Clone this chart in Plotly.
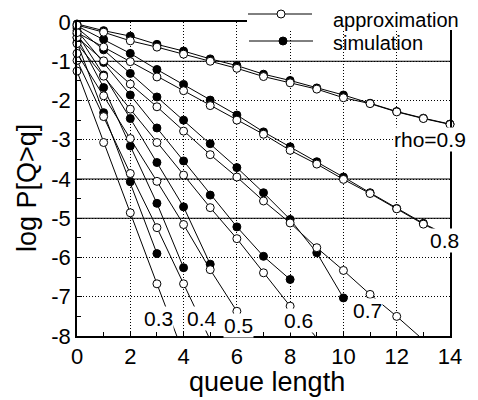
import plotly.graph_objects as go

queue_length = list(range(15))
x_tick_vals = [0, 2, 4, 6, 8, 10, 12, 14]
y_tick_vals = [0, -1, -2, -3, -4, -5, -6, -7, -8]
y_tick_text = ["0", "-1", "-2", "-3", "-4", "-5", "-6", "-7", "-8"]

approx_03 = [-1.25, -3.07, -4.86, -6.67, -8.45]
approx_04 = [-0.98, -2.41, -3.86, -5.24, -6.67, -8.10]
approx_05 = [-0.80, -1.88, -2.97, -4.06, -5.16, -6.31, -7.37]
approx_06 = [-0.55, -1.38, -2.22, -3.07, -3.90, -4.73, -5.52, -6.39, -7.24, -8.05]
approx_07 = [-0.39, -0.99, -1.58, -2.16, -2.78, -3.38, -3.95, -4.56, -5.12, -5.75, -6.33, -6.94, -7.50, -8.10]
approx_08 = [-0.27, -0.64, -1.01, -1.40, -1.75, -2.13, -2.50, -2.86, -3.27, -3.62, -4.01, -4.37, -4.76, -5.15, -5.49]
approx_09 = [-0.08, -0.26, -0.48, -0.64, -0.82, -1.00, -1.18, -1.39, -1.55, -1.71, -1.93, -2.08, -2.29, -2.46, -2.61]

sim_03 = [-0.52, -2.31, -4.07, -5.90]
sim_04 = [-0.40, -1.67, -3.16, -4.62, -6.26]
sim_05 = [-0.30, -1.35, -2.46, -3.58, -4.71, -6.17]
sim_06 = [-0.22, -1.03, -1.86, -2.70, -3.54, -4.41, -5.22, -5.97, -6.56]
sim_07 = [-0.15, -0.71, -1.31, -1.91, -2.50, -3.10, -3.71, -4.35, -5.03, -5.88, -7.03]
sim_08 = [-0.10, -0.44, -0.80, -1.21, -1.59, -1.99, -2.37, -2.80, -3.18, -3.56, -3.95, -4.35, -4.75, -5.13, -5.47]
sim_09 = [-0.05, -0.22, -0.36, -0.57, -0.74, -0.94, -1.11, -1.33, -1.49, -1.68, -1.86, -2.07, -2.28, -2.45, -2.60]

approx_series = [approx_03, approx_04, approx_05, approx_06, approx_07, approx_08, approx_09]
sim_series = [sim_03, sim_04, sim_05, sim_06, sim_07, sim_08, sim_09]

rho_labels = ["0.3", "0.4", "0.5", "0.6", "0.7", "0.8", "rho=0.9"]
label_x = [3.05, 4.7, 6.08, 8.33, 10.9, 13.8, 13.25]
label_y = [-7.56, -7.55, -7.72, -7.6, -7.35, -5.56, -3.0]

legend_names = ["approximation", "simulation"]
x_title = "queue length"
y_title = "log P[Q>q]"

FONT = "Liberation Sans, Arial, sans-serif"
Y_MIN = -8.0

# page body has an 8px default margin: work in page pixels, shift into figure pixels
OFF = 8
FIG_W, FIG_H = 478 - OFF, 400 - OFF
L, R, T, B = 77 - OFF, 450 - OFF, 22 - OFF, 336 - OFF
W, H = R - L, B - T


def px(xp):
    return (xp - OFF - L) / W


def py(yp):
    return (B - (yp - OFF)) / H


fig = go.Figure()


def add_series(ys, filled):
    xs = queue_length[:len(ys)]
    op = [1 if y >= Y_MIN - 0.06 else 0 for y in ys]
    fig.add_trace(go.Scatter(
        x=xs, y=ys, mode="lines+markers", showlegend=False, cliponaxis=False,
        line=dict(color="black", width=1),
        marker=dict(symbol="circle", size=8, opacity=op,
                    color="black" if filled else "white",
                    line=dict(color="black", width=1)),
    ))


for ys in sim_series:
    add_series(ys, True)
for ys in approx_series:
    add_series(ys, False)

for t, xv, yv in zip(rho_labels, label_x, label_y):
    fig.add_annotation(x=xv, y=yv, text=t, showarrow=False, bgcolor="white",
                       font=dict(family=FONT, size=21, color="black"), borderpad=0)

shapes = []
for yv in [-1, -4, -5]:
    shapes.append(dict(type="line", xref="x", yref="y", x0=0, x1=14, y0=yv, y1=yv,
                       line=dict(color="black", width=1), layer="below"))

# legend box (manual), positions given in page pixels
shapes.append(dict(type="rect", xref="paper", yref="paper", x0=px(247), x1=px(480),
                   y0=py(30), y1=py(0), fillcolor="white", line=dict(width=0), layer="above"))
rows = [(14, 248, 312, 281, "white", 20), (41, 249, 313, 283, "black", 43)]
for (yy, xa, xb, xm, fc, ty), name in zip(rows, legend_names):
    shapes.append(dict(type="line", xref="paper", yref="paper", x0=px(xa), x1=px(xb),
                       y0=py(yy), y1=py(yy), line=dict(color="black", width=1), layer="above"))
    shapes.append(dict(type="circle", xref="paper", yref="paper",
                       x0=px(xm - 4), x1=px(xm + 4), y0=py(yy + 4), y1=py(yy - 4),
                       fillcolor=fc, line=dict(color="black", width=1), layer="above"))
    fig.add_annotation(xref="paper", yref="paper", x=px(331), y=py(ty), text=name,
                       xanchor="left", yanchor="middle", showarrow=False,
                       font=dict(family=FONT, size=20, color="black"))

# axis titles
fig.add_annotation(xref="paper", yref="paper", x=px(267), y=py(382), text=x_title,
                   xanchor="center", yanchor="middle", showarrow=False,
                   font=dict(family=FONT, size=27, color="black"))
fig.add_annotation(xref="paper", yref="paper", x=px(27), y=py(188), text=y_title,
                   textangle=-90, xanchor="center", yanchor="middle", showarrow=False,
                   font=dict(family=FONT, size=27, color="black"))

grid_dash = "1px,2px"

fig.update_layout(
    width=FIG_W, height=FIG_H,
    margin=dict(l=L, r=FIG_W - R, t=T, b=FIG_H - B, autoexpand=False),
    paper_bgcolor="white", plot_bgcolor="white",
    font=dict(family=FONT, color="black"),
    shapes=shapes,
    showlegend=False,
    xaxis=dict(range=[0, 14], tickvals=x_tick_vals, showgrid=True, gridcolor="black",
               griddash=grid_dash, gridwidth=1, zeroline=False, showline=True, mirror=True,
               linecolor="black", linewidth=1.5, ticks="inside", ticklen=5,
               tickcolor="black", tickfont=dict(size=22), automargin=False,
               minor=dict(dtick=1, ticks="inside", ticklen=4, tickcolor="black", showgrid=False)),
    yaxis=dict(range=[-8, 0], tickvals=y_tick_vals, ticktext=y_tick_text, showgrid=True,
               gridcolor="black", griddash=grid_dash, gridwidth=1, zeroline=False,
               showline=True, mirror=True, linecolor="black", linewidth=1.5,
               ticks="inside", ticklen=5, tickcolor="black", tickfont=dict(size=22),
               automargin=False,
               minor=dict(dtick=0.5, ticks="inside", ticklen=4, tickcolor="black", showgrid=False)),
)

fig.write_html("out.html")
